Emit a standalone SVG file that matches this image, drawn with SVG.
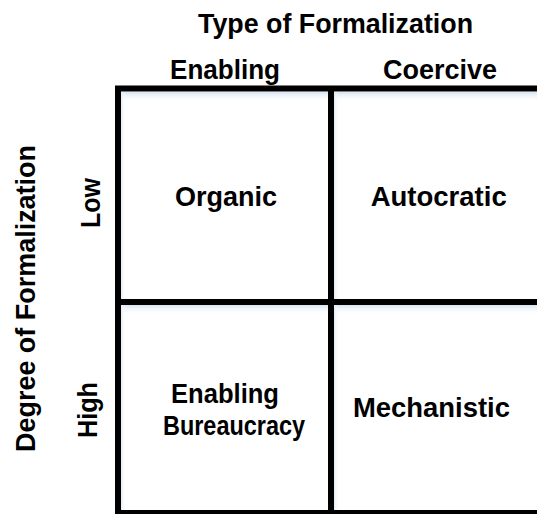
<svg xmlns="http://www.w3.org/2000/svg" width="537" height="514" viewBox="0 0 537 514">
<defs>
<linearGradient id="tg" x1="0" y1="0" x2="0" y2="1">
<stop offset="0" stop-color="#d6e4f2"/>
<stop offset="1" stop-color="#ffffff" stop-opacity="0"/>
</linearGradient>
<linearGradient id="lg" x1="0" y1="0" x2="1" y2="0">
<stop offset="0" stop-color="#e2ecf6"/>
<stop offset="1" stop-color="#ffffff" stop-opacity="0"/>
</linearGradient>
</defs>
<style>
text{font-family:"Liberation Sans",Arial,sans-serif;font-weight:bold;fill:#000;text-anchor:middle;font-size:27px}
.g{stroke:#000;stroke-width:6;fill:none}
</style>
<rect width="537" height="514" fill="#fff"/>
<g id="shading">
<rect x="121" y="92" width="207" height="10" fill="url(#tg)"/>
<rect x="334" y="92" width="203" height="10" fill="url(#tg)"/>
<rect x="121" y="305" width="207" height="10" fill="url(#tg)"/>
<rect x="334" y="305" width="203" height="10" fill="url(#tg)"/>
<rect x="121" y="92" width="5" height="420" fill="url(#lg)"/>
<rect x="334" y="92" width="5" height="420" fill="url(#lg)"/>
</g>
<g id="connectors">
<path class="g" d="M118 88.5H540M118 85.5V514M118 302H540M331 88V514M115 513H540"/>
</g>
<g id="title"><text x="335.5" y="32.5" textLength="275" lengthAdjust="spacingAndGlyphs">Type of Formalization</text></g>
<g id="col-enabling"><text x="225" y="79" textLength="110" lengthAdjust="spacingAndGlyphs">Enabling</text></g>
<g id="col-coercive"><text x="440" y="79" textLength="114" lengthAdjust="spacingAndGlyphs">Coercive</text></g>
<g id="row-axis"><text transform="translate(35 298.5) rotate(-90)" textLength="307" lengthAdjust="spacingAndGlyphs">Degree of Formalization</text></g>
<g id="row-low"><text transform="translate(100 203) rotate(-90)" textLength="50" lengthAdjust="spacingAndGlyphs">Low</text></g>
<g id="row-high"><text transform="translate(97 410) rotate(-90)" textLength="56" lengthAdjust="spacingAndGlyphs">High</text></g>
<g id="organic"><text x="226" y="206" textLength="102" lengthAdjust="spacingAndGlyphs">Organic</text></g>
<g id="autocratic"><text x="438.7" y="206" textLength="136" lengthAdjust="spacingAndGlyphs">Autocratic</text></g>
<g id="enabling-bureaucracy"><text x="225" y="403" textLength="108" lengthAdjust="spacingAndGlyphs">Enabling</text><text x="234" y="435" textLength="142" lengthAdjust="spacingAndGlyphs">Bureaucracy</text></g>
<g id="mechanistic"><text x="431.5" y="417" textLength="157" lengthAdjust="spacingAndGlyphs">Mechanistic</text></g>
</svg>
